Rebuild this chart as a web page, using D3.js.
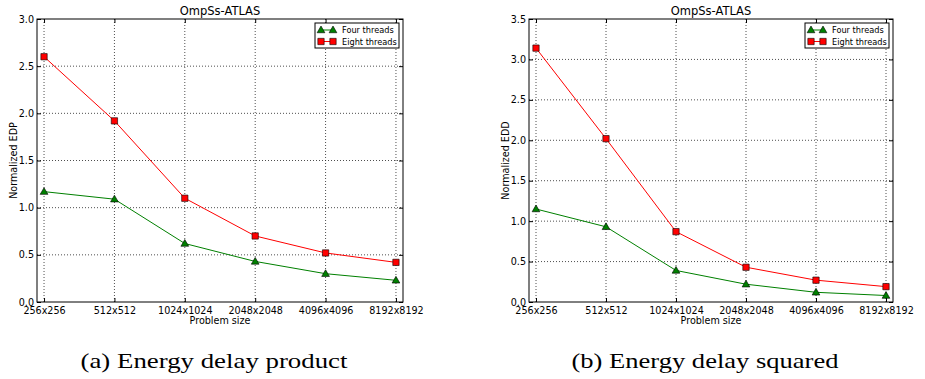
<!DOCTYPE html>
<html lang="en">

<head>
    <meta charset="UTF-8">
    <title>OmpSs-ATLAS EDP / EDD</title>
    <script src="https://d3js.org/d3.v7.min.js"></script>
    <style>
        body,
        html {
            margin: 0px;
            background: white;
        }

        text {
            font-family: "DejaVu Sans", sans-serif;
            fill: black;
        }

        text.caption {
            font-family: "Liberation Serif", serif;
        }
    </style>
</head>

<body>
    <div id="chart"></div>

    <script>
        // problem sizes on x axis
        const sizes = ["256x256", "512x512", "1024x1024", "2048x2048", "4096x4096", "8192x8192"]

        // (a) normalized energy delay product
        const edpFour = [1.17, 1.09, 0.62, 0.43, 0.30, 0.23]
        const edpEight = [2.60, 1.92, 1.10, 0.70, 0.52, 0.42]
        const edpTicks = [0.0, 0.5, 1.0, 1.5, 2.0, 2.5, 3.0]

        // (b) normalized energy delay squared
        const eddFour = [1.15, 0.93, 0.39, 0.22, 0.12, 0.08]
        const eddEight = [3.14, 2.02, 0.87, 0.43, 0.27, 0.19]
        const eddTicks = [0.0, 0.5, 1.0, 1.5, 2.0, 2.5, 3.0, 3.5]

        const seriesNames = ["Four threads", "Eight threads"]

        const width = 925, height = 379

        const svg = d3.select("#chart")
            .append("svg")
            .attr("width", width)
            .attr("height", height)

        drawPanel({ left: 37, right: 403, top: 19, bottom: 302 }, edpFour, edpEight, edpTicks, "Normalized EDP", 16.5, "(a) Energy delay product")
        drawPanel({ left: 529, right: 893, top: 19, bottom: 302 }, eddFour, eddEight, eddTicks, "Normalized EDD", 509, "(b) Energy delay squared")

        function drawPanel(box, four, eight, ticks, yLabel, yLabelX, caption) {
            const g = svg.append("g")

            const x = d3.scalePoint()
                .domain(sizes)
                .range([box.left, box.right])
                .padding(0.1)

            const y = d3.scaleLinear()
                .domain([0, d3.max(ticks)])
                .range([box.bottom, box.top])

            // grid lines (dotted)
            g.append("g")
                .selectAll("line")
                .data(sizes)
                .join("line")
                .attr("x1", d => x(d)).attr("x2", d => x(d))
                .attr("y1", box.top).attr("y2", box.bottom)
                .attr("stroke", "#222")
                .attr("stroke-width", 0.8)
                .attr("stroke-dasharray", "1,2")

            g.append("g")
                .selectAll("line")
                .data(ticks.slice(1, -1))
                .join("line")
                .attr("x1", box.left).attr("x2", box.right)
                .attr("y1", d => y(d)).attr("y2", d => y(d))
                .attr("stroke", "#222")
                .attr("stroke-width", 0.8)
                .attr("stroke-dasharray", "1,2")

            // axes with inward ticks on all sides
            const tickLen = 4
            g.append("g")
                .attr("transform", `translate(0,${box.bottom})`)
                .call(d3.axisBottom(x).tickSizeInner(-tickLen).tickSizeOuter(0).tickPadding(5))
                .call(a => a.select(".domain").remove())
                .call(a => a.selectAll("text").attr("font-size", "9.6px").attr("font-family", "DejaVu Sans"))
            g.append("g")
                .attr("transform", `translate(0,${box.top})`)
                .call(d3.axisTop(x).tickSizeInner(-tickLen).tickSizeOuter(0).tickFormat(""))
                .call(a => a.select(".domain").remove())
            g.append("g")
                .attr("transform", `translate(${box.left},0)`)
                .call(d3.axisLeft(y).tickValues(ticks).tickFormat(d3.format(".1f")).tickSizeInner(-tickLen).tickSizeOuter(0).tickPadding(3))
                .call(a => a.select(".domain").remove())
                .call(a => a.selectAll("text").attr("font-size", "9.6px").attr("font-family", "DejaVu Sans"))
            g.append("g")
                .attr("transform", `translate(${box.right},0)`)
                .call(d3.axisRight(y).tickValues(ticks).tickFormat("").tickSizeInner(-tickLen).tickSizeOuter(0))
                .call(a => a.select(".domain").remove())

            g.selectAll(".tick line").attr("stroke", "black")

            // frame
            g.append("rect")
                .attr("x", box.left).attr("y", box.top)
                .attr("width", box.right - box.left)
                .attr("height", box.bottom - box.top)
                .attr("fill", "none")
                .attr("stroke", "black")
                .attr("stroke-width", 1)

            const lineFunc = d3.line()
                .x((d, i) => x(sizes[i]))
                .y(d => y(d))

            const tri = d3.symbol().type(d3.symbolTriangle).size(26)
            const sq = d3.symbol().type(d3.symbolSquare).size(40)

            // four threads
            g.append("path")
                .attr("d", lineFunc(four))
                .attr("fill", "none")
                .attr("stroke", "#008000")
                .attr("stroke-width", 1)
            g.append("g")
                .selectAll("path")
                .data(four)
                .join("path")
                .attr("d", tri)
                .attr("transform", (d, i) => `translate(${x(sizes[i])},${y(d) + 0.5})`)
                .attr("fill", "#008000")
                .attr("stroke", "black")
                .attr("stroke-width", 0.6)

            // eight threads
            g.append("path")
                .attr("d", lineFunc(eight))
                .attr("fill", "none")
                .attr("stroke", "#ff0000")
                .attr("stroke-width", 1)
            g.append("g")
                .selectAll("path")
                .data(eight)
                .join("path")
                .attr("d", sq)
                .attr("transform", (d, i) => `translate(${x(sizes[i])},${y(d)})`)
                .attr("fill", "#ff0000")
                .attr("stroke", "black")
                .attr("stroke-width", 0.6)

            // title + axis labels
            g.append("text")
                .attr("x", (box.left + box.right) / 2)
                .attr("y", 14.5)
                .attr("text-anchor", "middle")
                .attr("font-size", "11.5px")
                .text("OmpSs-ATLAS")

            g.append("text")
                .attr("x", (box.left + box.right) / 2)
                .attr("y", 324)
                .attr("text-anchor", "middle")
                .attr("font-size", "9.6px")
                .text("Problem size")

            g.append("text")
                .attr("transform", `translate(${yLabelX},${(box.top + box.bottom) / 2}) rotate(-90)`)
                .attr("text-anchor", "middle")
                .attr("font-size", "9.6px")
                .text(yLabel)

            // legend
            const lg = g.append("g")
                .attr("transform", `translate(${box.right - 88},${box.top + 4})`)
            lg.append("rect")
                .attr("width", 84).attr("height", 25)
                .attr("fill", "white")
                .attr("stroke", "black")
                .attr("stroke-width", 1)

            const items = [
                { name: seriesNames[0], color: "#008000", sym: tri, dy: 0.5 },
                { name: seriesNames[1], color: "#ff0000", sym: sq, dy: 0 }
            ]
            items.forEach((it, k) => {
                const cy = 7 + k * 11.5
                lg.append("line")
                    .attr("x1", 6).attr("x2", 18)
                    .attr("y1", cy).attr("y2", cy)
                    .attr("stroke", it.color)
                lg.selectAll(null)
                    .data([6, 18])
                    .join("path")
                    .attr("d", it.sym)
                    .attr("transform", d => `translate(${d},${cy + it.dy})`)
                    .attr("fill", it.color)
                    .attr("stroke", "black")
                    .attr("stroke-width", 0.6)
                lg.append("text")
                    .attr("x", 27)
                    .attr("y", cy + 3)
                    .attr("font-size", "8.2px")
                    .text(it.name)
            })

            // subfigure caption
            svg.append("text")
                .attr("class", "caption")
                .attr("x", (box.left + box.right) / 2 - 6)
                .attr("y", 368)
                .attr("text-anchor", "middle")
                .attr("font-size", "21px")
                .attr("textLength", 267)
                .attr("lengthAdjust", "spacingAndGlyphs")
                .text(caption)
        }
    </script>
</body>

</html>
